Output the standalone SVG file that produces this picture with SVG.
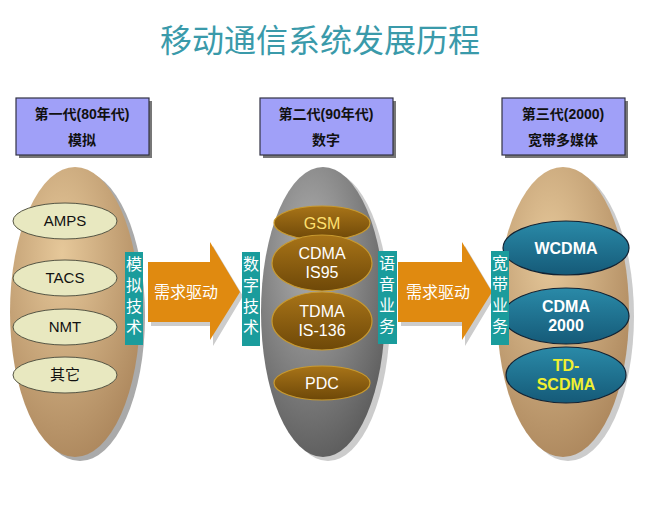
<svg xmlns="http://www.w3.org/2000/svg" width="670" height="532" viewBox="0 0 670 532">
<style>
text{font-family:"Liberation Sans","Noto Sans CJK SC",sans-serif}
.hdr{fill:#a0a0f8;stroke:#334;stroke-width:1.2}
.ht{font-size:14px;font-weight:bold;fill:#111;text-anchor:middle}
.lab{fill:#1a9c9c}
.lt{font-size:16px;fill:#fff;text-anchor:middle}
.arr{fill:#e08a10}
.at{font-size:16px;fill:#fff;text-anchor:middle}
.s1{fill:#e8e8c0;stroke:#554;stroke-width:1}
.s2{fill:url(#gb);stroke:#c89a30;stroke-width:1.2}
.s3{fill:url(#gt);stroke:#123;stroke-width:1.2}
.t1{font-size:15px;fill:#111;text-anchor:middle}
.t2{font-size:16px;fill:#fff;text-anchor:middle}
.t3{font-size:16px;font-weight:bold;fill:#fff;text-anchor:middle}
</style>
<defs>
<radialGradient id="gtan" cx="0.4" cy="0.3" r="0.8"><stop offset="0" stop-color="#e6c89a"/><stop offset="1" stop-color="#a88258"/></radialGradient>
<radialGradient id="ggr" cx="0.4" cy="0.3" r="0.8"><stop offset="0" stop-color="#b0b0b0"/><stop offset="1" stop-color="#555"/></radialGradient>
<linearGradient id="gb" x1="0" y1="0" x2="0" y2="1"><stop offset="0" stop-color="#a87418"/><stop offset="1" stop-color="#6e4808"/></linearGradient>
<linearGradient id="gt" x1="0" y1="0" x2="0" y2="1"><stop offset="0" stop-color="#2a8aa8"/><stop offset="1" stop-color="#155a78"/></linearGradient>
</defs>
<text x="320" y="52" font-size="32" fill="#3a9aaa" text-anchor="middle">移动通信系统发展历程</text>
<g id="h1"><rect x="19" y="101" width="133" height="57" fill="#777"/><rect class="hdr" x="16" y="98" width="133" height="57"/><text class="ht" x="82" y="119">第一代(80年代)</text><text class="ht" x="82" y="145">模拟</text></g>
<g id="h2"><rect x="263" y="101" width="133" height="57" fill="#777"/><rect class="hdr" x="260" y="98" width="133" height="57"/><text class="ht" x="326" y="119">第二代(90年代)</text><text class="ht" x="326" y="145">数字</text></g>
<g id="h3"><rect x="505" y="101" width="123" height="57" fill="#777"/><rect class="hdr" x="502" y="98" width="123" height="57"/><text class="ht" x="563" y="119">第三代(2000)</text><text class="ht" x="563" y="145">宽带多媒体</text></g>
<g id="e1"><ellipse cx="80" cy="316" rx="65" ry="145" fill="#aaa"/><ellipse cx="75" cy="312" rx="65" ry="145" fill="url(#gtan)"/>
<ellipse class="s1" cx="65" cy="221" rx="52" ry="18"/><text class="t1" x="65" y="226">AMPS</text>
<ellipse class="s1" cx="65" cy="278" rx="52" ry="18"/><text class="t1" x="65" y="283">TACS</text>
<ellipse class="s1" cx="65" cy="327" rx="52" ry="18"/><text class="t1" x="65" y="332">NMT</text>
<ellipse class="s1" cx="65" cy="375" rx="52" ry="18"/><text class="t1" x="65" y="380">其它</text></g>
<g id="e2"><ellipse cx="328" cy="316" rx="62" ry="145" fill="#ccc"/><ellipse cx="323" cy="312" rx="62" ry="145" fill="url(#ggr)"/>
<ellipse class="s2" cx="322" cy="223" rx="48" ry="17"/><text x="322" y="229" font-size="16" fill="#ffe070" text-anchor="middle">GSM</text>
<ellipse class="s2" cx="322" cy="263" rx="50" ry="28"/><text class="t2" x="322" y="259">CDMA</text><text class="t2" x="322" y="278">IS95</text>
<ellipse class="s2" cx="322" cy="321" rx="50" ry="29"/><text class="t2" x="322" y="317">TDMA</text><text class="t2" x="322" y="336">IS-136</text>
<ellipse class="s2" cx="322" cy="383" rx="48" ry="17"/><text class="t2" x="322" y="389">PDC</text></g>
<g id="e3"><ellipse cx="568" cy="316" rx="66" ry="145" fill="#ccc"/><ellipse cx="563" cy="312" rx="66" ry="145" fill="url(#gtan)"/>
<ellipse class="s3" cx="566" cy="248" rx="63" ry="27"/><text class="t3" x="566" y="254">WCDMA</text>
<ellipse class="s3" cx="566" cy="316" rx="63" ry="28"/><text class="t3" x="566" y="312">CDMA</text><text class="t3" x="566" y="331">2000</text>
<ellipse class="s3" cx="566" cy="375" rx="60" ry="28"/><text x="566" y="371" font-size="16" font-weight="bold" fill="#f0f030" text-anchor="middle">TD-</text><text x="566" y="390" font-size="16" font-weight="bold" fill="#f0f030" text-anchor="middle">SCDMA</text></g>
<g id="connectors">
<path d="M151 266H213V246L243 296L213 346V326H151Z" fill="#ccc"/>
<path class="arr" d="M148 262H210V242L240 292L210 340V322H148Z"/><text class="at" x="186" y="298">需求驱动</text>
<path d="M401 266H465V246L495 296L465 346V326H401Z" fill="#ccc"/>
<path class="arr" d="M398 262H462V242L492 292L462 340V322H398Z"/><text class="at" x="438" y="298">需求驱动</text>
</g>
<g id="l1"><rect class="lab" x="125" y="252" width="18" height="93"/><text class="lt" x="134" y="270">模</text><text class="lt" x="134" y="291">拟</text><text class="lt" x="134" y="312">技</text><text class="lt" x="134" y="333">术</text></g>
<g id="l2"><rect class="lab" x="242" y="252" width="18" height="94"/><text class="lt" x="251" y="270">数</text><text class="lt" x="251" y="291">字</text><text class="lt" x="251" y="312">技</text><text class="lt" x="251" y="333">术</text></g>
<g id="l3"><rect class="lab" x="378" y="251" width="19" height="93"/><text class="lt" x="387" y="269">语</text><text class="lt" x="387" y="290">音</text><text class="lt" x="387" y="311">业</text><text class="lt" x="387" y="332">务</text></g>
<g id="l4"><rect class="lab" x="491" y="251" width="18" height="94"/><text class="lt" x="500" y="269">宽</text><text class="lt" x="500" y="290">带</text><text class="lt" x="500" y="311">业</text><text class="lt" x="500" y="332">务</text></g>
</svg>
